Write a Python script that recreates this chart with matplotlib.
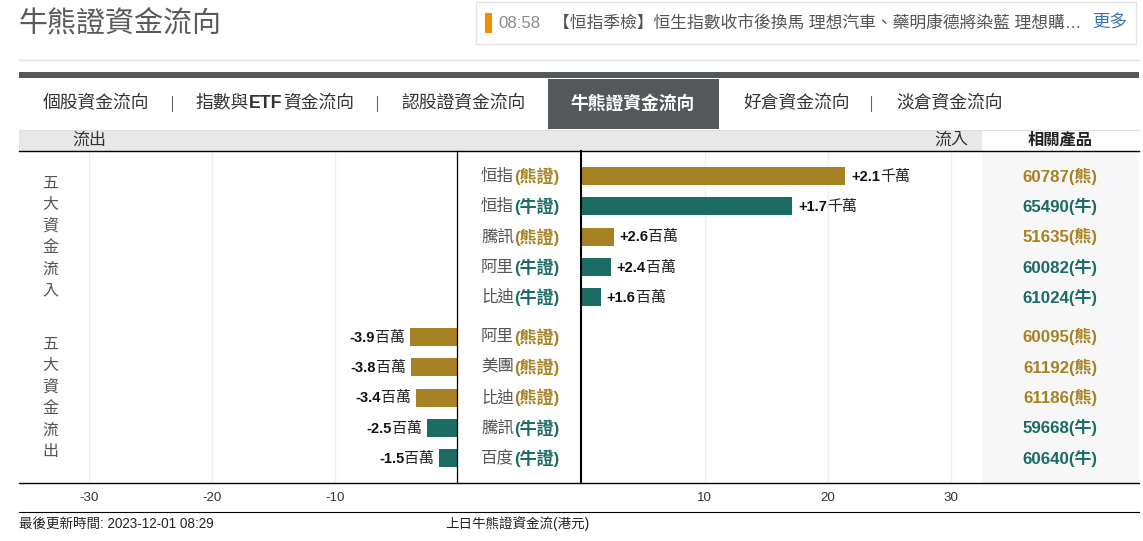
import matplotlib
matplotlib.use('Agg')
import matplotlib.pyplot as plt
from matplotlib.patches import Rectangle
from matplotlib.transforms import blended_transform_factory as blend

W, H = 1143, 541
FONT = ['Liberation Sans', 'Noto Sans CJK TC', 'DejaVu Sans']
plt.rcParams['font.family'] = FONT
plt.rcParams['axes.unicode_minus'] = False

names = ['恒指', '恒指', '騰訊', '阿里', '比迪', '阿里', '美團', '比迪', '騰訊', '百度']
kinds = ['熊', '牛', '熊', '牛', '牛', '熊', '熊', '熊', '牛', '牛']
values = [21.4, 17.1, 2.6, 2.4, 1.6, -3.9, -3.8, -3.4, -2.5, -1.5]
num_labels = ['+2.1', '+1.7', '+2.6', '+2.4', '+1.6', '-3.9', '-3.8', '-3.4', '-2.5', '-1.5']
unit_labels = ['千萬', '千萬', '百萬', '百萬', '百萬', '百萬', '百萬', '百萬', '百萬', '百萬']
codes = ['60787', '65490', '51635', '60082', '61024', '60095', '61192', '61186', '59668', '60640']
left_ticks = [-30, -20, -10]
right_ticks = [10, 20, 30]
tabs = ['個股資金流向', None, '認股證資金流向', '牛熊證資金流向', '好倉資金流向', '淡倉資金流向']
tab_x = [43, 196, 401, 571, 743, 896]
sep_x = [172, 377, 871]

GOLD, TEAL, DARK = '#A68224', '#1C6B64', '#55585B'
colors = {'熊': GOLD, '牛': TEAL}
PX = 0.72


def fs(px):
    return px * PX


fig = plt.figure(figsize=(W / 100, H / 100), dpi=100, facecolor='white')


def make_ax(x0, x1, y0, y1, **kw):
    return fig.add_axes([x0 / W, 1 - y1 / H, (x1 - x0) / W, (y1 - y0) / H], **kw)


# page furniture in pixel coordinates
pix = make_ax(0, W, 0, H, zorder=0)
pix.set_xlim(0, W)
pix.set_ylim(H, 0)
pix.axis('off')


def rect(x0, y0, x1, y1, fc, ec='none', lw=0):
    pix.add_patch(Rectangle((x0, y0), x1 - x0, y1 - y0, fc=fc, ec=ec, lw=lw))


def txt(x, y, s, px, color='#333333', ha='left', weight='normal', **kw):
    return pix.text(x, y, s, fontsize=fs(px), color=color, ha=ha, va='center', fontweight=weight, **kw)


txt(19, 24, '牛熊證資金流向', 29, '#5A5A5A')
rect(475.5, 1.5, 1136, 43.5, 'white', '#E4E4E4', 1)
rect(485, 13, 492, 33, '#F09000')
txt(498, 23, '08:58', 16.8, '#8A8A8A')
txt(553, 23, '【恒指季檢】恒生指數收市後換馬 理想汽車、藥明康德將染藍 理想購…', 16.8, '#555555')
txt(1092, 23, '更多', 17.5, '#3B74B0')
pix.plot([19, 1139], [60, 60], color='#E2E2E2', lw=1)
rect(19, 72, 1139, 78, DARK)
rect(548, 79, 719, 129, DARK)
for i, (t, x) in enumerate(zip(tabs, tab_x)):
    if t is not None:
        txt(x, 104, t, 17.8, 'white' if i == 3 else '#333333', weight='bold' if i == 3 else 'normal')
a = txt(tab_x[1], 104, '指數與', 17.8)
b = pix.annotate('ETF', xy=(1, 0.5), xycoords=a, xytext=(0, 0), textcoords='offset points', ha='left', va='center',
                 fontsize=fs(17.8), fontweight='bold', color='#333333')
pix.annotate('資金流向', xy=(1, 0.5), xycoords=b, xytext=(0, 0), textcoords='offset points', ha='left', va='center',
             fontsize=fs(17.8), color='#333333')
for x in sep_x:
    pix.plot([x, x], [96, 111], color='#666666', lw=0.8)
rect(19, 130, 982, 151, '#E8E8E8')
pix.plot([19, 1139], [129.5, 129.5], color='#DDDDDD', lw=0.8)
txt(72, 140, '流出', 17)
txt(934, 140, '流入', 17)
txt(1060, 140, '相關產品', 16.3, '#222222', ha='center', weight='bold')
rect(982, 152, 1139, 483, '#F7F7F7')
for k, word in enumerate(['五大資金流入', '五大資金流出']):
    for j, ch in enumerate(word):
        txt(50, (183.5 if k == 0 else 344.5) + j * 21.4, ch, 16, '#555555', ha='center')
txt(19, 524, '最後更新時間: 2023-12-01 08:29', 13.5, '#222222')
txt(445, 524, '上日牛熊證資金流(港元)', 13.5, '#222222')

# row positions: second group is set a little apart from the first
rows = [i if i < 5 else i + 0.3 for i in range(len(values))]
pitch = 30.35
ylim = ((483 - 176) / pitch, (151 - 176) / pitch)


def chart_ax(x0, x1, xlim, ticks):
    ax = make_ax(x0, x1, 151, 483, zorder=1)
    ax.patch.set_alpha(0)
    ax.set_xlim(*xlim)
    ax.set_ylim(*ylim)
    ax.set_yticks([])
    ax.set_xticks(ticks)
    ax.grid(axis='x', color='#EEEEEE', lw=1)
    ax.set_axisbelow(True)
    ax.tick_params(axis='x', length=0, pad=6.5, labelsize=fs(13.4), labelcolor='#333333')
    for s in ax.spines.values():
        s.set_visible(False)
    return ax


axL = chart_ax(19, 457.5, ((19 - 457.5) / 12.28, 0), left_ticks)
axR = chart_ax(581.5, 982, (0, (982 - 581.5) / 12.33), right_ticks)

for v, r, k, num, unit, name, code in zip(values, rows, kinds, num_labels, unit_labels, names, codes):
    ax = axR if v > 0 else axL
    c = colors[k]
    ax.barh(r, v, height=18 / pitch, color=c, zorder=3)
    if v > 0:
        t = ax.annotate(num, (v, r), xytext=(4, -0.5), textcoords='offset points', ha='left', va='center',
                        fontsize=fs(14.6), fontweight='bold', color='#111111', annotation_clip=False)
        ax.annotate(unit, xy=(1, 0.5), xycoords=t, xytext=(0, 0), textcoords='offset points',
                    ha='left', va='center', fontsize=fs(15), color='#222222', annotation_clip=False)
    else:
        t = ax.annotate(unit, (v, r), xytext=(-3.5, -0.5), textcoords='offset points', ha='right', va='center',
                        fontsize=fs(15), color='#222222', annotation_clip=False)
        ax.annotate(num, xy=(0, 0.5), xycoords=t, xytext=(0, 0), textcoords='offset points',
                    ha='right', va='center', fontsize=fs(14.6), fontweight='bold', color='#111111',
                    annotation_clip=False)
    tr = blend(pix.transData, axR.transData)
    pix.text(514, r, name, transform=tr, ha='right', va='center', fontsize=fs(16.5), color='#555555', clip_on=False)
    pix.text(514, r, f'({k}證)', transform=tr, ha='left', va='center', fontsize=fs(17), color=c,
             fontweight='bold', clip_on=False)
    pix.text(1060, r, f'{code}({k})', transform=tr, ha='center', va='center', fontsize=fs(16.9), color=c,
             fontweight='bold', clip_on=False)

# frame lines on top
top = make_ax(0, W, 0, H, zorder=2)
top.set_xlim(0, W)
top.set_ylim(H, 0)
top.axis('off')
top.plot([19, 1139], [151, 151], color='black', lw=1)
top.plot([19, 1139], [483, 483], color='black', lw=1)
top.plot([19, 1139], [512, 512], color='black', lw=0.8)
top.plot([457, 457], [151, 483], color='black', lw=0.9)
top.plot([581, 581], [151, 483], color='black', lw=1.5)

fig.savefig('out.png', dpi=100)
